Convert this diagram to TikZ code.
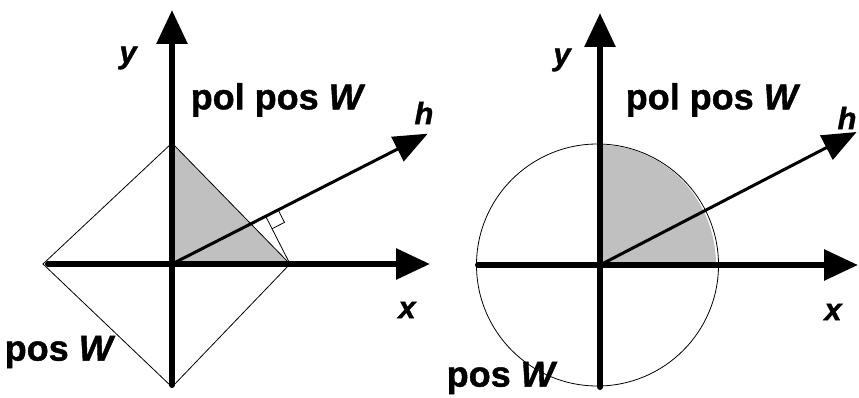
\documentclass[tikz,border=0pt]{standalone}
\usepackage{fontspec}
\setmainfont{Liberation Sans}[BoldFeatures={FakeBold=1.2}, BoldItalicFeatures={FakeBold=1.2}]
\usetikzlibrary{arrows.meta, calc}

\definecolor{wgray}{RGB}{192,192,192}

\tikzset{
    axis/.style={line width=6pt, line cap=round, -{Triangle[length=34pt, width=30pt]}},
    normal/.style={line width=3pt, -{Triangle[length=34pt, width=27pt]}},
    outline/.style={line width=0.8pt},
    region/.style={font=\bfseries\fontsize{36}{40}\selectfont},
    axlabel/.style={font=\bfseries\itshape\fontsize{31}{36}\selectfont}
}

\begin{document}
\begin{tikzpicture}[x=1pt, y=1pt]

    \useasboundingbox (0,0) rectangle (859,-398);

    % ==========================================
    % LEFT PANEL: diamond (1-norm ball)
    % ==========================================
    \begin{scope}[shift={(172,-264)}]
        \clip (-172,264) rectangle (260,-134);

        % Corners of the diamond and axis end points
        \coordinate (O1) at (0,0);
        \coordinate (T1) at (0,121);
        \coordinate (R1) at (118,0);
        \coordinate (B1) at (0,-123);
        \coordinate (L1) at (-129,0);
        \coordinate (XL1) at (-124,0);
        \coordinate (XR1) at (258,0);
        \coordinate (YB1) at (0,-121);
        \coordinate (YT1) at (0,254);
        \coordinate (H1) at (27:287);

        % Shaded part of the positive quadrant
        \fill[wgray] (O1) -- (R1) -- (T1) -- cycle;

        % Diamond outline
        \draw[outline] (T1) -- (R1) -- (B1) -- (L1) -- cycle;

        % Axes
        \draw[axis] (XL1) -- (XR1);
        \draw[axis] (YB1) -- (YT1);

        % Normal vector h and the perpendicular from the corner
        \draw[normal] (O1) -- (H1);
        \coordinate (F1) at ($(O1)!(R1)!(H1)$);
        \draw[outline] (R1) -- (F1);
        \coordinate (Fa) at ($(F1)!14pt!(H1)$);
        \coordinate (Fb) at ($(F1)!14pt!(R1)$);
        \draw[outline] (Fa) -- ($(Fa)+(Fb)-(F1)$) -- (Fb);

        % Labels
        \node[axlabel] (y1) at (-44,206) {y};
        \node[axlabel] (x1) at (235,-46) {x};
        \node[axlabel] (h1) at (252,151) {h};
        \node[region] (pp1) at (106,164) {pol pos \textit{W}};
        \node[region] (p1) at (-112,-88) {pos \textit{W}};
    \end{scope}


    % ==========================================
    % RIGHT PANEL: circle (2-norm ball)
    % ==========================================
    \begin{scope}[shift={(600,-265)}]
        \coordinate (O2) at (0,0);
        \coordinate (C2) at (-2.5,0);
        \coordinate (XL2) at (-122,0);
        \coordinate (XR2) at (258,0);
        \coordinate (YB2) at (0,-122);
        \coordinate (YT2) at (0,252);
        \coordinate (H2) at (27.4:289);

        % Shaded quarter disc
        \fill[wgray] (O2) -- (116,0) arc[start angle=0, end angle=90, x radius=116, y radius=120] -- cycle;

        % Circle outline
        \draw[outline] (C2) circle[radius=121];

        % Axes
        \draw[axis] (XL2) -- (XR2);
        \draw[axis] (YB2) -- (YT2);

        % Normal vector h
        \draw[normal] (O2) -- (H2);

        % Labels
        \node[axlabel] (y2) at (-38,205) {y};
        \node[axlabel] (x2) at (233,-47) {x};
        \node[axlabel] (h2) at (247,147) {h};
        \node[region] (pp2) at (113,165) {pol pos \textit{W}};
        \node[region] (p2) at (-98,-113) {pos \textit{W}};
    \end{scope}

\end{tikzpicture}
\end{document}
